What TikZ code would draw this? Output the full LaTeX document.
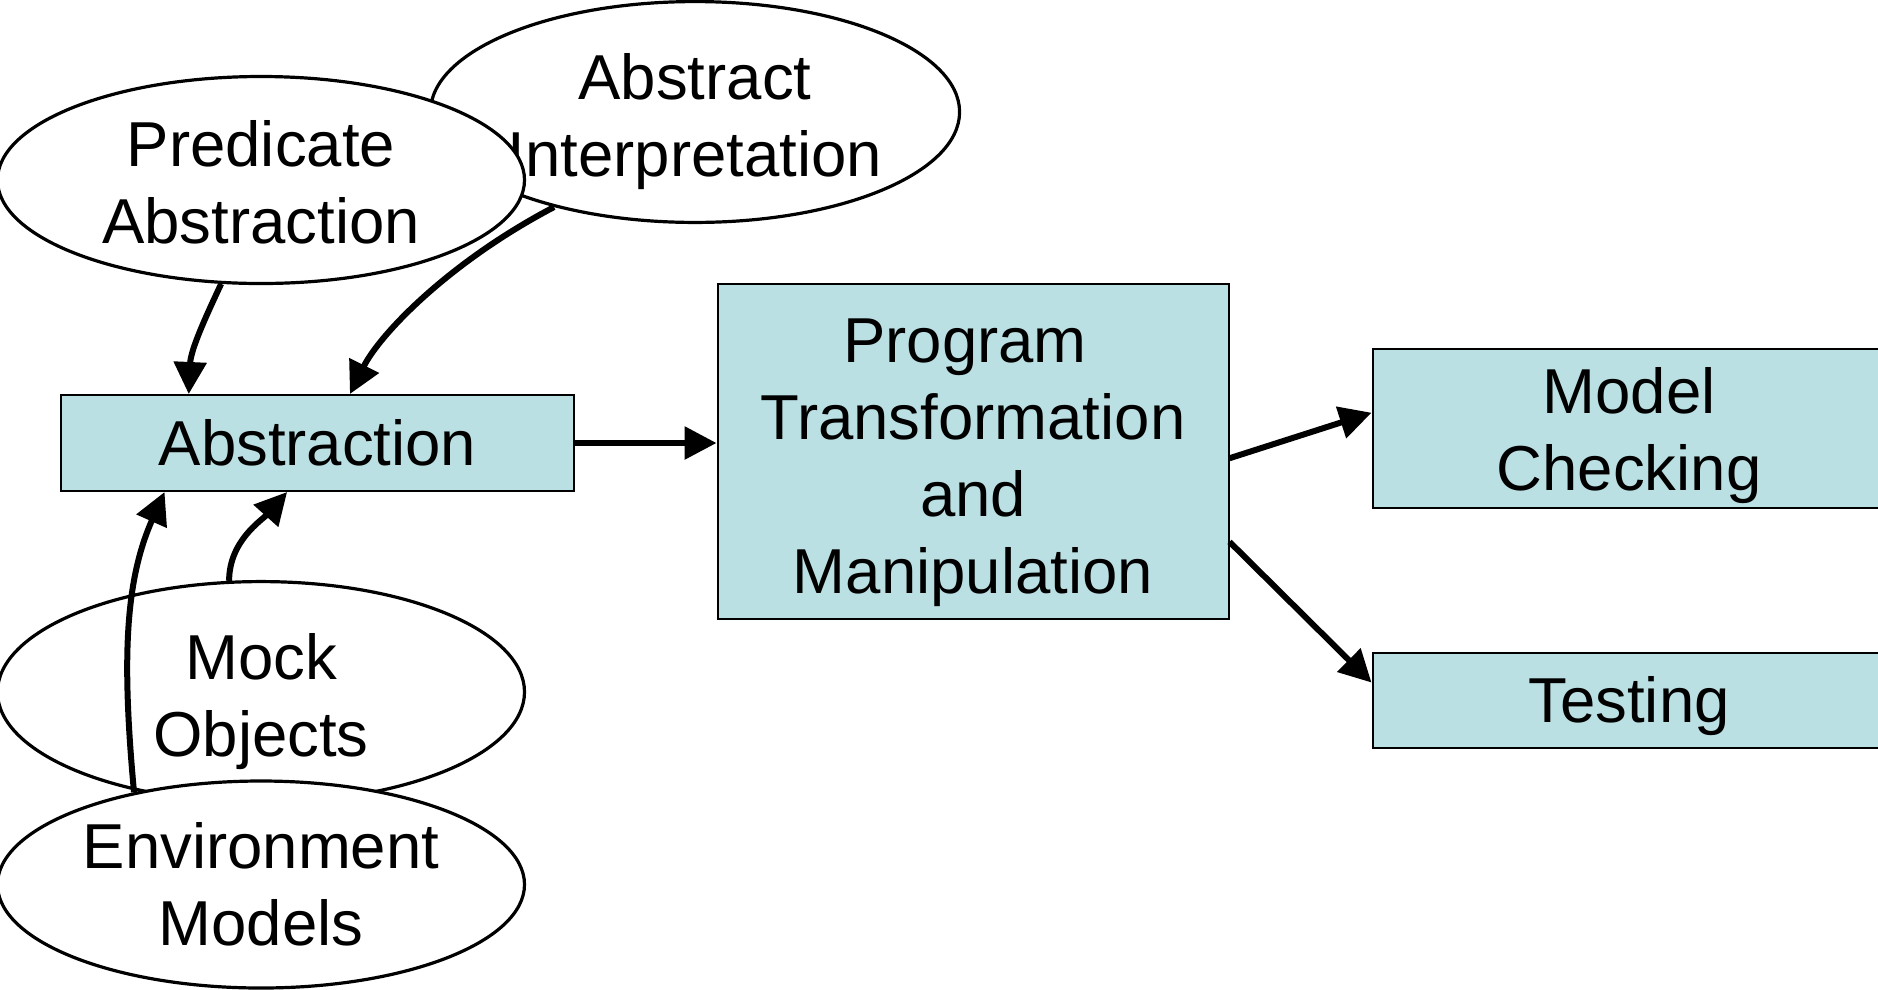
\documentclass[tikz,border=0pt]{standalone}
\usepackage{fontspec}
\setmainfont{Liberation Sans}
\usetikzlibrary{shapes.geometric,arrows.meta,calc}
\definecolor{boxfill}{RGB}{187,224,227}
\newcommand\lowtop[1]{\rule{0pt}{#1}}
\begin{document}
\begin{tikzpicture}[x=1pt,y=-1pt,
  bigtext/.style={font={\fontsize{63.5}{77}\selectfont}, align=center},
  oval/.style={ellipse, draw, line width=3.2pt, fill=white, inner sep=0pt,
    minimum width=527pt, minimum height=207pt, bigtext},
  stagebox/.style={rectangle, draw, line width=2pt, fill=boxfill, inner sep=0pt, bigtext},
  conn/.style={line width=6pt, -{Triangle[length=32pt,width=32pt]}}]
\useasboundingbox (0,0) rectangle (1878,989);
\clip (0,0) rectangle (1878,989);
% ovals
\node[oval, minimum height=209pt] (ai) at (695,112) {\lowtop{66pt}Abstract\\Interpretation};
\node[oval] (pred) at (261,180) {\lowtop{51pt}Predicate\\Abstraction};
\node[oval, minimum height=206pt] (mock) at (261,692) {\lowtop{66pt}Mock\\Objects};
\node[oval] (env) at (261,884.5) {Environment\\Models};
% boxes
\node[stagebox, minimum width=513pt, minimum height=96pt] (abs) at (317.5,443) {Abstraction};
\node[stagebox, minimum width=511pt, minimum height=335pt] (prog) at (973,451.5)
  {\lowtop{66pt}Program\hspace*{16pt}\\Transformation\hspace*{16pt}\\and\hspace*{16pt}\\Manipulation};
\node[stagebox, minimum width=513pt, minimum height=159pt] (mc) at (1629,428) {\lowtop{62pt}Model\\Checking};
\node[stagebox, minimum width=513pt, minimum height=95pt] (test) at (1629,700) {\lowtop{59pt}Testing};
% connectors
\draw[conn] (pred.-111) .. controls +(-14,30) and +(2,-45) .. ($(abs.north west)!0.25!(abs.north east)$);
\draw[conn] (ai.-146) .. controls +(-105,55) and +(30,-60) .. ($(abs.north west)!0.563!(abs.north east)$);
\draw[conn] (abs.east) -- (abs.east -| prog.west);
\draw[conn] ($(prog.north east)!0.52!(prog.south east)$) -- ($(mc.north west)!0.405!(mc.south west)$);
\draw[conn] ($(prog.north east)!0.768!(prog.south east)$) -- ($(test.north west)!0.32!(test.south west)$);
\draw[conn] (mock.106) .. controls +(0,-40) and +(-25,28) .. ($(abs.south west)!0.441!(abs.south east)$);
\draw[conn] (env.144) .. controls +(-12,-130) and +(-40,90) .. ($(abs.south west)!0.203!(abs.south east)$);
\end{tikzpicture}
\end{document}
